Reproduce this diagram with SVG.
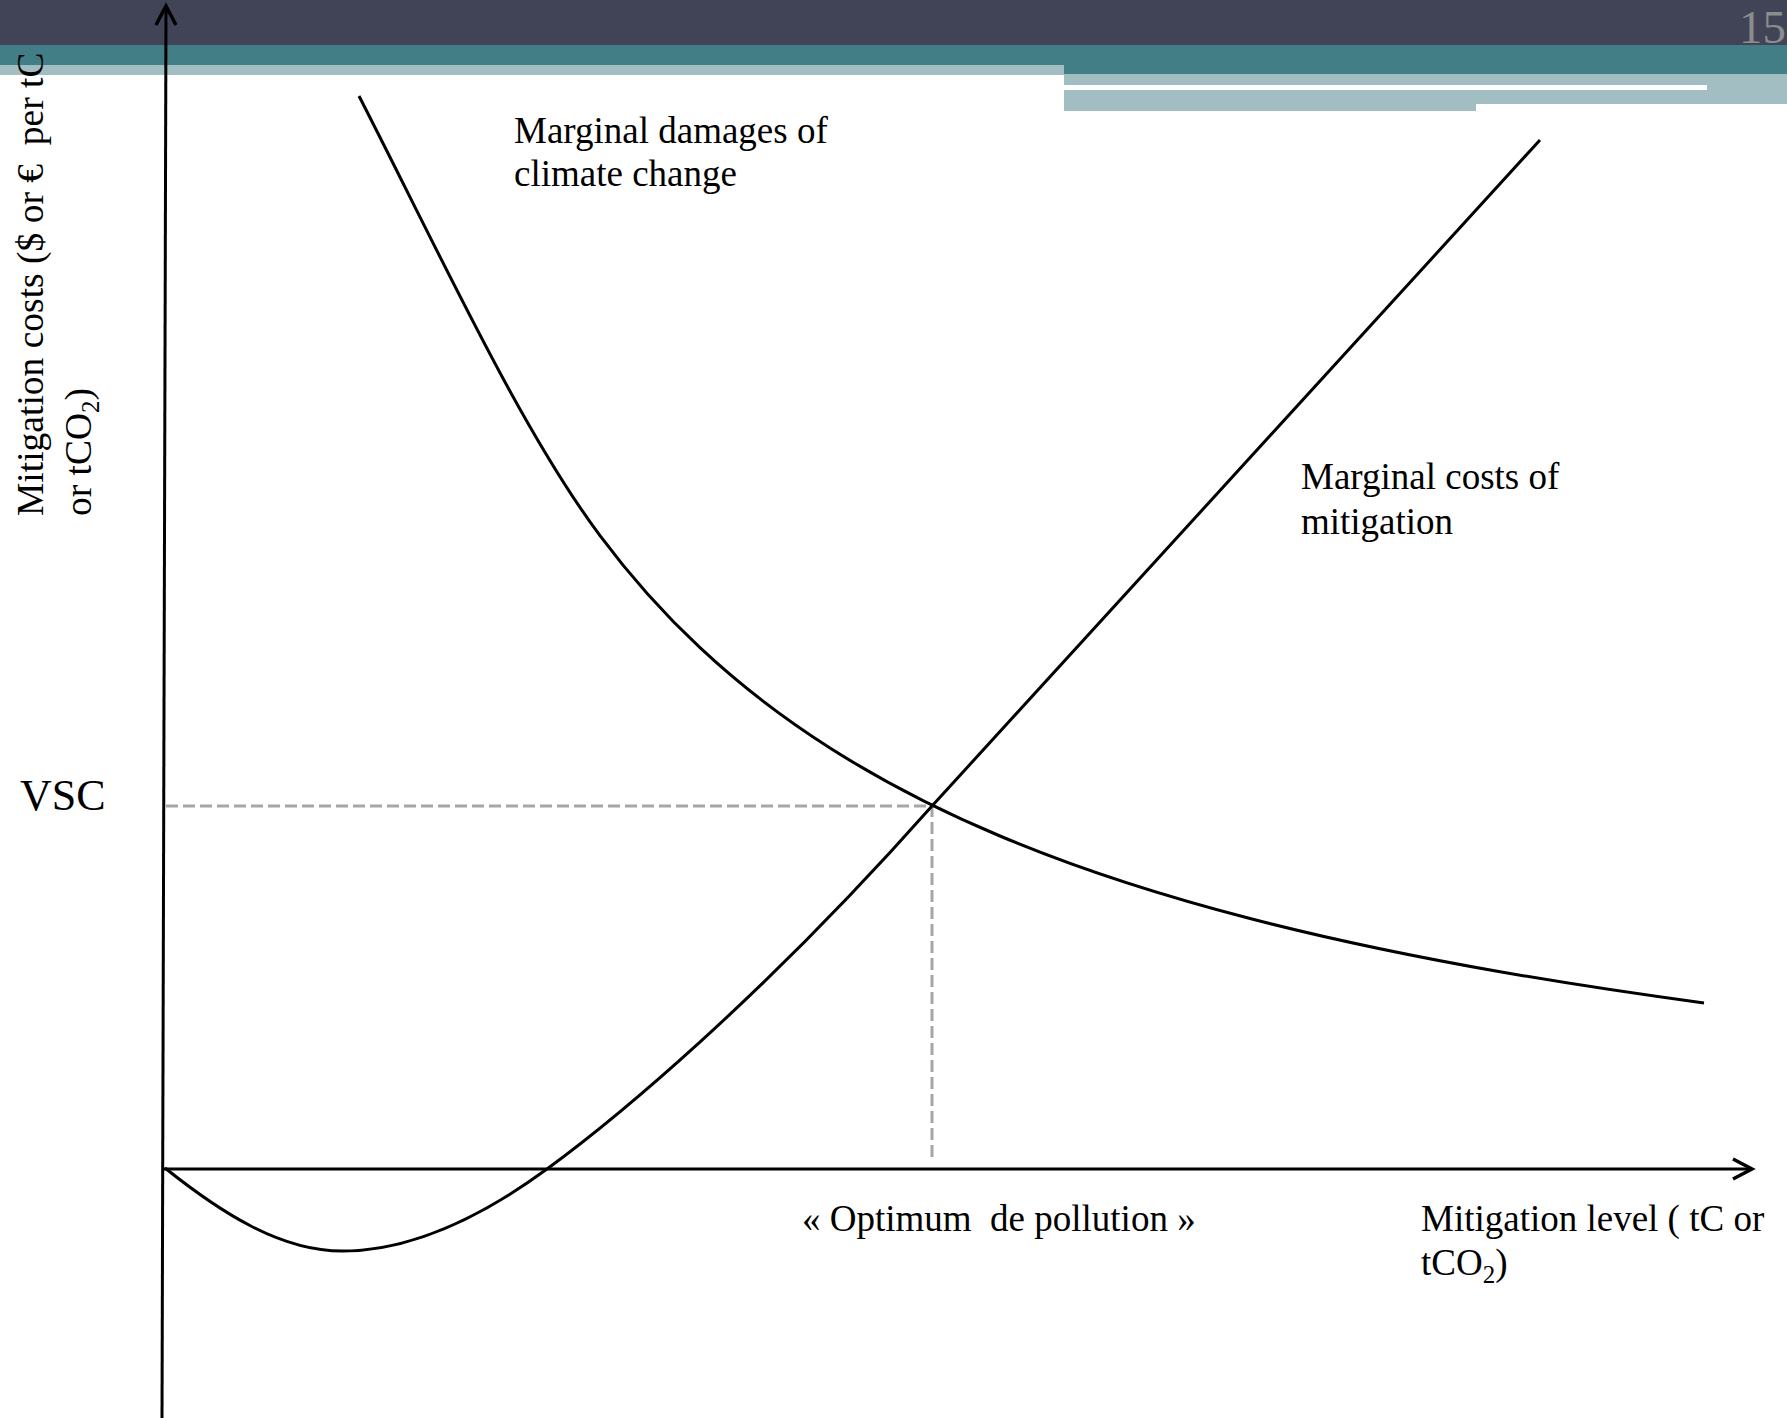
<svg xmlns="http://www.w3.org/2000/svg" width="1787" height="1418" viewBox="0 0 1787 1418">
<style>
.t{font-family:"Liberation Serif","Times New Roman",serif;font-size:37px;fill:#000;white-space:pre}
.curve{fill:none;stroke:#000;stroke-width:3}
.axis{fill:none;stroke:#000;stroke-width:3}
.dash{fill:none;stroke:#A6A6A6;stroke-width:3;stroke-dasharray:12 5}
</style>
<defs>
<marker id="arr" markerUnits="userSpaceOnUse" markerWidth="30" markerHeight="30" refX="20" refY="10" orient="auto" overflow="visible">
<path d="M1,0 L20,10 L1,20" fill="none" stroke="#000" stroke-width="3.5" stroke-linejoin="miter"/>
</marker>
</defs>
<rect width="1787" height="1418" fill="#fff"/>
<g id="header">
<rect x="0" y="0" width="1787" height="45" fill="#414457"/>
<rect x="0" y="45" width="1787" height="29" fill="#427E85"/>
<rect x="0" y="65" width="1064" height="10" fill="#A2BEC2"/>
<rect x="1064" y="74" width="723" height="30" fill="#A2BEC2"/>
<rect x="1064" y="104" width="412" height="7" fill="#A2BEC2"/>
<rect x="1064" y="85" width="643" height="5" fill="#fff"/>
<text x="1739" y="43" style="font-family:'Liberation Serif',serif;font-size:47px;fill:#8C8C8C">15</text>
</g>
<g id="guides">
<path class="dash" d="M166,806 H932 V1159"/>
</g>
<g id="axes">
<path class="axis" d="M162,1418 L166,6" marker-end="url(#arr)"/>
<path class="axis" d="M164,1169 L1752,1169" marker-end="url(#arr)"/>
</g>
<g id="connectors">
<path id="damages-curve" class="curve" d="M359,96 C439.3,252.6 519.7,428 600,535.6 C633.3,580.3 666.7,616.5 700,647.7 C743.3,688.3 786.7,720.4 830,748 C886.7,784.1 943.3,812.2 1000,836 C1083.3,871.1 1166.7,896.9 1250,918.5 C1333.3,940.1 1416.7,957.1 1500,971.7 C1568,983.6 1636,993.8 1704,1003"/>
<path id="cost-curve" class="curve" d="M165,1168 C220,1212 280,1251 342,1251 C410,1251 480,1218 547,1169 C614,1120 760,1000 932,806 L1540,140"/>
</g>
<g id="label-damages">
<text class="t" x="514" y="143">Marginal damages of</text>
<text class="t" x="514" y="186">climate change</text>
</g>
<g id="label-costs">
<text class="t" x="1301" y="489">Marginal costs of</text>
<text class="t" x="1301" y="534">mitigation</text>
</g>
<g id="label-optimum">
<text class="t" x="802" y="1231">« Optimum  de pollution »</text>
</g>
<g id="label-xaxis">
<text class="t" x="1421" y="1231">Mitigation level ( tC or</text>
<text class="t" x="1421" y="1275">tCO<tspan font-size="25" dy="8">2</tspan><tspan dy="-8">)</tspan></text>
</g>
<g id="label-vsc">
<text x="20" y="810" style="font-family:'Liberation Serif',serif;font-size:44px;fill:#000">VSC</text>
</g>
<g id="label-yaxis" transform="translate(43,516) rotate(-90)">
<text class="t" x="0" y="0" style="font-size:37.5px">Mitigation costs ($ or €  per tC</text>
<text class="t" x="0" y="48" style="font-size:37.5px">or tCO<tspan font-size="25" dy="8">2</tspan><tspan dy="-8">)</tspan></text>
</g>
</svg>
